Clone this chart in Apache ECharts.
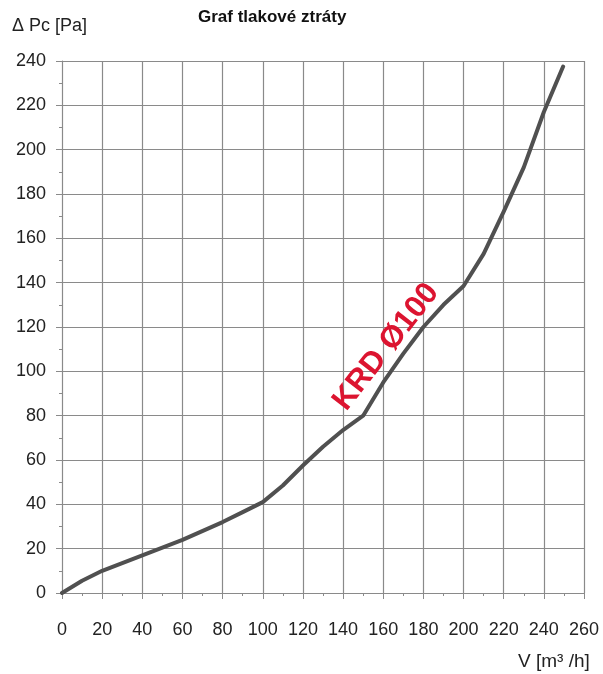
<!DOCTYPE html>
<html>
<head>
<meta charset="utf-8">
<script src="https://cdn.jsdelivr.net/npm/echarts@6/dist/echarts.min.js"></script>
<style>html,body{margin:0;padding:0;background:#fff;}#c{width:603px;height:674px;}</style>
</head>
<body>
<div id="c"></div>
<script>
const flowValues = [0, 10, 20, 40, 60, 80, 90, 100, 110, 120, 130, 140, 150, 160, 170, 180, 190, 200, 210, 220, 230, 240, 249.6];
const pressureValues = [0, 5.5, 10, 17, 24, 32, 36.5, 41, 48.5, 57.5, 66, 73.5, 80, 95, 108, 120, 130, 138.5, 153, 172, 192, 217, 237.5];
const xTicks = [0, 20, 40, 60, 80, 100, 120, 140, 160, 180, 200, 220, 240, 260];
const yTicks = [0, 20, 40, 60, 80, 100, 120, 140, 160, 180, 200, 220, 240];
const titleText = 'Graf tlakové ztráty';
const yName = 'Δ Pc [Pa]';
const xName = 'V [m³ /h]';
const curveLabel = 'KRD Ø100';

const chart = echarts.init(document.getElementById('c'));
const gridCol = '#8a8a8a';
const font = 'Liberation Sans, Arial, sans-serif';
chart.setOption({
  animation: false,
  backgroundColor: '#fff',
  title: {
    text: titleText, left: 193, top: 4,
    textStyle: { fontFamily: font, fontSize: 17, fontWeight: 'bold', color: '#111' }
  },
  grid: { left: 62, right: 19, top: 61, bottom: 81 },
  xAxis: {
    type: 'value', min: xTicks[0], max: xTicks[xTicks.length - 1], interval: 20,
    axisLine: { lineStyle: { color: gridCol, width: 1 } },
    axisTick: { show: true, length: 6, lineStyle: { color: gridCol } },
    minorTick: { show: true, splitNumber: 2, length: 3, lineStyle: { color: gridCol } },
    splitLine: { show: true, lineStyle: { color: gridCol, width: 1.2 } },
    axisLabel: { margin: 28, fontFamily: font, fontSize: 18, color: '#222' }
  },
  yAxis: {
    type: 'value', min: yTicks[0], max: yTicks[yTicks.length - 1], interval: 20,
    axisLine: { show: true, lineStyle: { color: gridCol, width: 1 } },
    axisTick: { show: true, length: 6, lineStyle: { color: gridCol } },
    minorTick: { show: true, splitNumber: 2, length: 3, lineStyle: { color: gridCol } },
    splitLine: { show: true, lineStyle: { color: gridCol, width: 1.2 } },
    axisLabel: { margin: 16, fontFamily: font, fontSize: 18, color: '#222' }
  },
  graphic: [
    { type: 'text', left: 12, top: 17, style: { text: yName, font: '18px ' + font, fill: '#222' } },
    { type: 'text', left: 518, top: 652, style: { text: xName, font: '19px ' + font, fill: '#222' } }
  ],
  series: [{
    type: 'line',
    data: flowValues.map((x, i) => [x, pressureValues[i]]),
    showSymbol: false,
    smooth: false,
    lineStyle: { color: '#505050', width: 4, cap: 'round', join: 'round' },
    markPoint: {
      symbol: 'circle', symbolSize: 0,
      data: [{ coord: [161.5, 111] }],
      label: {
        show: true, formatter: curveLabel, position: 'inside', rotate: 52,
        fontFamily: font, fontSize: 31, fontWeight: 'bold', color: '#dc1430'
      }
    }
  }]
});
</script>
</body>
</html>
